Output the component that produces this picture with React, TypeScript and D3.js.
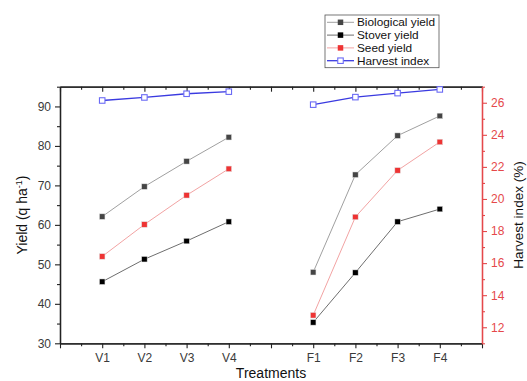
import React, { useEffect, useRef } from "react";
import * as d3 from "d3";

// slot labels along the x axis (blank slots are gaps)
const slotLabels = ["", "V1", "V2", "V3", "V4", "", "F1", "F2", "F3", "F4", ""];
const groups = [
  ["V1", "V2", "V3", "V4"],
  ["F1", "F2", "F3", "F4"],
];
const treatments = ["V1", "V2", "V3", "V4", "F1", "F2", "F3", "F4"];
const biologicalYield = [62.1, 69.7, 76.1, 82.2, 48.0, 72.7, 82.6, 87.6];
const stoverYield = [45.6, 51.3, 55.9, 60.8, 35.3, 47.9, 60.8, 64.0];
const seedYield = [52.0, 60.1, 67.5, 74.2, 37.1, 62.0, 73.8, 81.0];
const harvestIndex = [26.14, 26.33, 26.56, 26.69, 25.88, 26.35, 26.6, 26.83];

const yieldTicks = [30, 40, 50, 60, 70, 80, 90];
const hiTicks = [12, 14, 16, 18, 20, 22, 24, 26];

const FONT = "Arial, 'Liberation Sans', sans-serif";
const RED = "#e5484a";

interface Series {
  name: string;
  values: number[];
  lineColor: string;
  markerColor: string;
  open: boolean;
  right: boolean;
}

const series: Series[] = [
  { name: "Biological yield", values: biologicalYield, lineColor: "#a0a0a0", markerColor: "#454545", open: false, right: false },
  { name: "Stover yield", values: stoverYield, lineColor: "#6e6e6e", markerColor: "#000000", open: false, right: false },
  { name: "Seed yield", values: seedYield, lineColor: "#f2a3a3", markerColor: "#ee3333", open: false, right: false },
  { name: "Harvest index", values: harvestIndex, lineColor: "#3a3ae0", markerColor: "#6b6bf5", open: true, right: true },
];

const App: React.FC = () => {
  const svgRef = useRef<SVGSVGElement | null>(null);

  useEffect(() => {
    if (!svgRef.current) return;
    const svg = d3.select(svgRef.current);
    svg.selectAll("*").remove();

    const left = 60, right = 482, top = 86.7, bottom = 343.3;

    const x = d3.scaleLinear().domain([0, slotLabels.length - 1]).range([left, right]);
    const y = d3.scaleLinear().domain([30, 95]).range([bottom, top]);
    const yR = d3.scaleLinear().domain([11, 27]).range([bottom, top]);

    const xOf = (t: string) => x(slotLabels.indexOf(t));

    const styleAxis = (g: d3.Selection<SVGGElement, unknown, null, undefined>, color: string) => {
      g.selectAll("path").attr("stroke", color).attr("stroke-width", 1.3);
      g.selectAll("line").attr("stroke", color).attr("stroke-width", 1.1);
      g.selectAll("text").attr("fill", color === RED ? RED : "#3a3a3a").style("font-family", FONT).style("font-size", "12px");
    };

    const majorX = d3.range(0, slotLabels.length);
    const minorX = d3.range(0.5, slotLabels.length - 1, 1);

    // bottom axis
    const gb = svg.append("g").attr("transform", `translate(0,${bottom})`)
      .call(d3.axisBottom(x).tickValues(majorX).tickFormat((d) => slotLabels[d as number]).tickSize(5).tickPadding(5).tickSizeOuter(0));
    styleAxis(gb, "#222");
    const gbm = svg.append("g").attr("transform", `translate(0,${bottom})`)
      .call(d3.axisBottom(x).tickValues(minorX).tickFormat(() => "").tickSize(3).tickSizeOuter(0));
    styleAxis(gbm, "#222");

    // top axis (ticks inward)
    const gt = svg.append("g").attr("transform", `translate(0,${top})`)
      .call(d3.axisTop(x).tickValues(majorX).tickFormat(() => "").tickSize(-5).tickSizeOuter(0));
    styleAxis(gt, "#222");
    const gtm = svg.append("g").attr("transform", `translate(0,${top})`)
      .call(d3.axisTop(x).tickValues(minorX).tickFormat(() => "").tickSize(-3).tickSizeOuter(0));
    styleAxis(gtm, "#222");

    // left axis
    const gl = svg.append("g").attr("transform", `translate(${left},0)`)
      .call(d3.axisLeft(y).tickValues(yieldTicks).tickSize(5).tickPadding(4).tickSizeOuter(0));
    styleAxis(gl, "#222");
    const glm = svg.append("g").attr("transform", `translate(${left},0)`)
      .call(d3.axisLeft(y).tickValues(yieldTicks.map((v) => v + 5)).tickFormat(() => "").tickSize(3).tickSizeOuter(0));
    styleAxis(glm, "#222");

    // right axis
    const gr = svg.append("g").attr("transform", `translate(${right},0)`)
      .call(d3.axisRight(yR).tickValues(hiTicks).tickSize(5).tickPadding(4).tickSizeOuter(0));
    styleAxis(gr, RED);
    const grm = svg.append("g").attr("transform", `translate(${right},0)`)
      .call(d3.axisRight(yR).tickValues(hiTicks.map((v) => v - 1).concat([27])).tickFormat(() => "").tickSize(3).tickSizeOuter(0));
    styleAxis(grm, RED);

    // axis titles
    const yt = svg.append("text")
      .attr("transform", `translate(27,${(top + bottom) / 2}) rotate(-90)`)
      .attr("text-anchor", "middle")
      .style("font-family", FONT).style("font-size", "14px").attr("fill", "#111");
    yt.append("tspan").text("Yield (q ha");
    yt.append("tspan").attr("dy", -5).style("font-size", "9px").text("-1");
    yt.append("tspan").attr("dy", 5).text(")");

    svg.append("text")
      .attr("transform", `translate(523,${(top + bottom) / 2}) rotate(-90)`)
      .attr("text-anchor", "middle")
      .style("font-family", FONT).style("font-size", "13.5px").attr("fill", "#111")
      .text("Harvest index (%)");

    svg.append("text")
      .attr("x", 271).attr("y", 378)
      .attr("text-anchor", "middle")
      .style("font-family", FONT).style("font-size", "14px").attr("fill", "#111")
      .text("Treatments");

    // series
    const ms = 5.5;
    series.forEach((s) => {
      const sy = s.right ? yR : y;
      const line = d3.line<string>()
        .x((t) => xOf(t))
        .y((t) => sy(s.values[treatments.indexOf(t)]));
      groups.forEach((grp) => {
        svg.append("path")
          .attr("d", line(grp)!)
          .attr("fill", "none")
          .attr("stroke", s.lineColor)
          .attr("stroke-width", s.open ? 1.3 : 1);
      });
      svg.selectAll(null)
        .data(treatments)
        .enter()
        .append("rect")
        .attr("x", (t) => xOf(t) - ms / 2)
        .attr("y", (t) => sy(s.values[treatments.indexOf(t)]) - ms / 2)
        .attr("width", ms)
        .attr("height", ms)
        .attr("fill", s.open ? "#fff" : s.markerColor)
        .attr("stroke", s.open ? s.markerColor : "#e0e0e0")
        .attr("stroke-width", s.open ? 1.1 : 0.5);
    });

    // legend
    const lx = 325, ly = 15, lw = 114, rowH = 12.8;
    const legend = svg.append("g");
    legend.append("rect")
      .attr("x", lx).attr("y", ly).attr("width", lw).attr("height", rowH * series.length + 1.5)
      .attr("fill", "#fff").attr("stroke", "#555").attr("stroke-width", 0.8);
    series.forEach((s, i) => {
      const cy = ly + 7.3 + i * rowH;
      legend.append("line")
        .attr("x1", lx + 2).attr("x2", lx + 29).attr("y1", cy).attr("y2", cy)
        .attr("stroke", s.lineColor).attr("stroke-width", s.open ? 1.3 : 1);
      legend.append("rect")
        .attr("x", lx + 15.5 - ms / 2).attr("y", cy - ms / 2).attr("width", ms).attr("height", ms)
        .attr("fill", s.open ? "#fff" : s.markerColor)
        .attr("stroke", s.open ? s.markerColor : "none").attr("stroke-width", 1.1);
      legend.append("text")
        .attr("x", lx + 32).attr("y", cy + 4)
        .style("font-family", FONT).style("font-size", "11.8px").attr("fill", "#111")
        .text(s.name);
    });
  }, []);

  return (
    <svg ref={svgRef} width={527} height={381} style={{ position: "absolute", left: 0, top: 0, background: "#fff" }} />
  );
};

export default App;
